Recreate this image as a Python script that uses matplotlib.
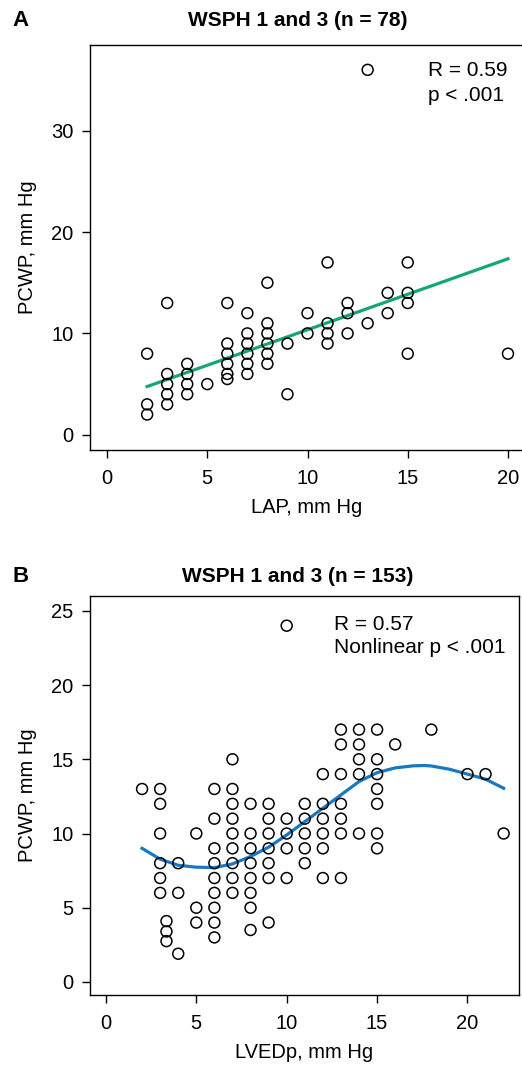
import numpy as np
import matplotlib
matplotlib.use("Agg")
import matplotlib.pyplot as plt

plt.rcParams['font.family'] = ['Liberation Sans', 'DejaVu Sans']

# --- Panel A data: LAP vs PCWP (visible points) ---
lap_x = [2, 2, 2,
         3, 3, 3, 3, 3,
         4, 4, 4, 4,
         5,
         6, 6, 6, 6, 6, 6,
         7, 7, 7, 7, 7, 7,
         8, 8, 8, 8, 8, 8,
         9, 9,
         10, 10,
         11, 11, 11, 11,
         12, 12, 12,
         13, 13,
         14, 14,
         15, 15, 15, 15,
         20]
lap_pcwp = [8, 3, 2,
            13, 6, 5, 4, 3,
            7, 6, 5, 4,
            5,
            13, 9, 8, 7, 6, 5.5,
            12, 10, 9, 8, 7, 6,
            15, 11, 10, 9, 8, 7,
            9, 4,
            12, 10,
            17, 11, 10, 9,
            13, 12, 10,
            11, 36,
            14, 12,
            17, 14, 13, 8,
            8]
lap_fit_x = [2, 20]
lap_fit_y = [4.76, 17.36]

# --- Panel B data: LVEDp vs PCWP (visible points) ---
lved_x = [13, 14, 15, 18,
          13, 14, 16,
          7, 14, 15,
          12, 13, 14, 15, 20, 21,
          2, 3, 6, 7, 15,
          3, 7, 8, 9, 11, 12, 13, 15,
          6, 7, 9, 10, 11, 12, 13,
          3, 5, 7, 8, 9, 10, 11, 12, 13, 14, 15, 22,
          6, 7, 8, 9, 10, 11, 12, 15,
          3, 4, 6, 7, 8, 9, 11,
          3, 6, 7, 8, 9, 10, 12, 13,
          3, 4, 6, 7, 8,
          5, 6, 8,
          5, 6, 9,
          8, 6, 3.35, 3.35, 3.35, 4, 10]
lved_pcwp = [17, 17, 17, 17,
             16, 16, 16,
             15, 15, 15,
             14, 14, 14, 14, 14, 14,
             13, 13, 13, 13, 13,
             12, 12, 12, 12, 12, 12, 12, 12,
             11, 11, 11, 11, 11, 11, 11,
             10, 10, 10, 10, 10, 10, 10, 10, 10, 10, 10, 10,
             9, 9, 9, 9, 9, 9, 9, 9,
             8, 8, 8, 8, 8, 8, 8,
             7, 7, 7, 7, 7, 7, 7, 7,
             6, 6, 6, 6, 6,
             5, 5, 5,
             4, 4, 4,
             3.5, 3, 4.1, 3.4, 2.75, 1.9, 24]
spline_x = [2, 3, 4, 5, 6, 7, 8, 9, 10, 11, 12, 13, 14, 15, 16, 17, 17.6, 18, 19, 20, 21, 22]
spline_y = [9.0, 8.27, 7.86, 7.73, 7.70, 7.95, 8.45, 9.08, 9.9, 10.8, 11.7, 12.6, 13.5,
            14.1, 14.42, 14.56, 14.58, 14.55, 14.33, 14.0, 13.66, 13.05]

GREEN = "#15a577"
BLUE = "#1a78c2"

fig = plt.figure(figsize=(5.22, 10.68), dpi=100)
W, H = 522, 1068


def make_axes(left, top, right, bottom):
    return fig.add_axes([left / W, 1 - bottom / H, (right - left) / W, (bottom - top) / H])


def style(ax):
    for s in ax.spines.values():
        s.set_linewidth(1.0)
    ax.tick_params(direction='out', length=6, width=1, labelsize=14.5)
    ax.tick_params(axis='x', pad=8)
    ax.tick_params(axis='y', pad=6)


# Panel A
axA = make_axes(90, 45, 523, 450)
axA.scatter(lap_x, lap_pcwp, s=62, facecolors='none', edgecolors='black', linewidths=1.1, zorder=3)
axA.plot(lap_fit_x, lap_fit_y, color=GREEN, lw=2.3, zorder=2)
axA.set_xlim(-0.85, 20.75)
axA.set_ylim(-1.5, 38.45)
axA.set_xticks([0, 5, 10, 15, 20])
axA.set_yticks([0, 10, 20, 30])
axA.set_xlabel("LAP, mm Hg", fontsize=14.5, labelpad=7)
axA.set_ylabel("PCWP, mm Hg", fontsize=14.5, labelpad=10)
axA.text(16.0, 35.9, "R = 0.59", fontsize=15, va='center', ha='left')
axA.text(16.0, 33.5, "p < .001", fontsize=15, va='center', ha='left')
style(axA)
fig.text(298 / W, 1 - 20 / H, "WSPH 1 and 3 (n = 78)", fontsize=15, fontweight='bold',
         ha='center', va='center')
fig.text(12 / W, 1 - 20 / H, "A", fontsize=16, fontweight='bold', ha='left', va='center')

# Panel B
axB = make_axes(90, 596, 519, 995)
axB.scatter(lved_x, lved_pcwp, s=62, facecolors='none', edgecolors='black', linewidths=1.1, zorder=3)
axB.plot(spline_x, spline_y, color=BLUE, lw=2.3, zorder=2)
axB.set_xlim(-0.88, 22.85)
axB.set_ylim(-0.88, 26.0)
axB.set_xticks([0, 5, 10, 15, 20])
axB.set_yticks([0, 5, 10, 15, 20, 25])
axB.set_xlabel("LVEDp, mm Hg", fontsize=14.5, labelpad=7)
axB.set_ylabel("PCWP, mm Hg", fontsize=14.5, labelpad=10)
axB.text(12.62, 24.1, "R = 0.57", fontsize=15, va='center', ha='left')
axB.text(12.62, 22.5, "Nonlinear p < .001", fontsize=15, va='center', ha='left')
style(axB)
fig.text(298 / W, 1 - 577 / H, "WSPH 1 and 3 (n = 153)", fontsize=15, fontweight='bold',
         ha='center', va='center')
fig.text(12 / W, 1 - 577 / H, "B", fontsize=16, fontweight='bold', ha='left', va='center')

fig.savefig("out.png", dpi=100)
